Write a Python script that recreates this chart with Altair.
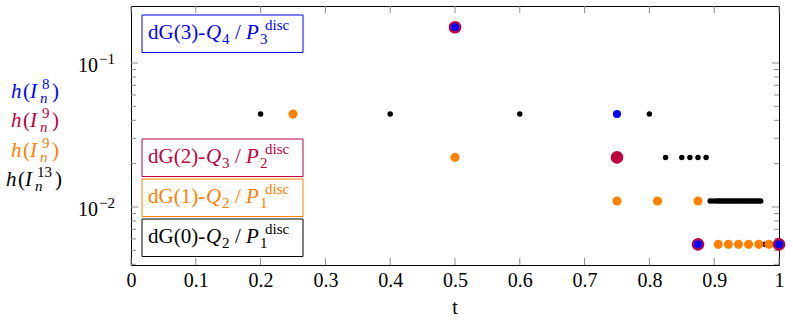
import altair as alt
import pandas as pd

FONT = "'Liberation Serif'"
BLUE = "#0000ff"
PURPLE = "#bf0040"
ORANGE = "#ff8000"
BLACK = "#000000"
TICK = "#8c8c8c"

# dG(0)-Q2/P1disc, local mesh size h(I_n^13)
dg0_t = [0.2, 0.4, 0.6, 0.8,
         0.825, 0.85, 0.8625, 0.875, 0.8875,
         0.8938, 0.8984, 0.9031, 0.9063, 0.9094, 0.9125, 0.9156, 0.9188,
         0.9219, 0.925, 0.9281, 0.9313, 0.9344, 0.9375, 0.9406, 0.9438,
         0.9469, 0.95, 0.9531, 0.9563, 0.9594, 0.9625, 0.9656, 0.9688,
         0.9719,
         0.978]
dg0_h = [0.0442, 0.0442, 0.0442, 0.0442,
         0.0221, 0.0221, 0.0221, 0.0221, 0.0221,
         0.0110, 0.0110, 0.0110, 0.0110, 0.0110, 0.0110, 0.0110, 0.0110,
         0.0110, 0.0110, 0.0110, 0.0110, 0.0110, 0.0110, 0.0110, 0.0110,
         0.0110, 0.0110, 0.0110, 0.0110, 0.0110, 0.0110, 0.0110, 0.0110,
         0.0110,
         0.0055]

# dG(1)-Q2/P1disc, h(I_n^9)
dg1_t = [0.25, 0.5, 0.75, 0.8125, 0.875,
         0.9063, 0.9219, 0.9375, 0.9531, 0.9688, 0.9844]
dg1_h = [0.0442, 0.0221, 0.0110, 0.0110, 0.0110,
         0.0055, 0.0055, 0.0055, 0.0055, 0.0055, 0.0055]

# dG(2)-Q3/P2disc, h(I_n^9)
dg2_t = [0.5, 0.75, 0.875, 1.0]
dg2_h = [0.177, 0.0221, 0.0055, 0.0055]

# dG(3)-Q4/P3disc, h(I_n^8)
dg3_t = [0.5, 0.75, 0.875, 1.0]
dg3_h = [0.177, 0.0442, 0.0055, 0.0055]

x_ticks = [0, 0.1, 0.2, 0.3, 0.4, 0.5, 0.6, 0.7, 0.8, 0.9, 1]
y_major = [0.01, 0.1]
y_major_exp = ["\u22122", "\u22121"]
y_minor = [0.004, 0.005, 0.006, 0.007, 0.008, 0.009,
           0.02, 0.03, 0.04, 0.05, 0.06, 0.07, 0.08, 0.09]

W, H = 648, 259
xsc = alt.Scale(domain=[0, 1], nice=False, zero=False)
ysc = alt.Scale(type="log", domain=[0.003954, 0.2488], nice=False)
xax = alt.Axis(values=x_ticks, format="~g", labelFont=FONT, labelFontSize=20,
               labelColor=BLACK, labelPadding=5, labelFlush=False,
               labelOverlap=False, ticks=False, domain=False, grid=False,
               title=None)

ONE = pd.DataFrame({"k": [0]})


def frag(s, x, y, size, color, italic=False, align="left"):
    return alt.Chart(ONE).mark_text(
        text=s, font=FONT, fontSize=size,
        fontStyle="italic" if italic else "normal",
        color=color, align=align, baseline="alphabetic",
    ).encode(x=alt.value(x), y=alt.value(y))


def points(ts, hs, color, size):
    df = pd.DataFrame({"t": ts, "h": hs})
    return alt.Chart(df).mark_circle(color=color, size=size, opacity=1).encode(
        x=alt.X("t:Q", scale=xsc, axis=xax),
        y=alt.Y("h:Q", scale=ysc, axis=None),
    )


layers = []

# inward ticks on all four sides
xt = pd.DataFrame({"v": x_ticks})
for y0, y1 in [(H, H - 7), (0, 7)]:
    layers.append(alt.Chart(xt).mark_rule(color=TICK, strokeWidth=1).encode(
        x=alt.X("v:Q", scale=xsc, axis=xax),
        y=alt.value(y0), y2=alt.value(y1)))
for vals, ln in [(y_major, 7), (y_minor, 5)]:
    yt = pd.DataFrame({"v": vals})
    for x0, x1 in [(0, ln), (W, W - ln)]:
        layers.append(alt.Chart(yt).mark_rule(color=TICK, strokeWidth=1).encode(
            y=alt.Y("v:Q", scale=ysc, axis=None),
            x=alt.value(x0), x2=alt.value(x1)))

# y tick labels 10^-k
ylab = pd.DataFrame({"v": y_major, "e": y_major_exp})
layers.append(alt.Chart(ylab).mark_text(
    text="10", font=FONT, fontSize=20, align="right", baseline="alphabetic",
    dy=9, color=BLACK).encode(
    y=alt.Y("v:Q", scale=ysc, axis=None), x=alt.value(-33)))
layers.append(alt.Chart(ylab).mark_text(
    font=FONT, fontSize=15, align="left", baseline="alphabetic",
    dy=1, color=BLACK).encode(
    y=alt.Y("v:Q", scale=ysc, axis=None), x=alt.value(-32), text="e:N"))

# data points
layers.append(points(dg0_t, dg0_h, BLACK, 30))
layers.append(points(dg1_t, dg1_h, ORANGE, 82))
layers.append(points(dg2_t, dg2_h, PURPLE, 160))
layers.append(points(dg3_t, dg3_h, BLUE, 66))


def legend_box(deg, q, p, color, top):
    bx0, bx1 = 11, 172
    out = [alt.Chart(ONE).mark_rect(fill="white", stroke=color, strokeWidth=1).encode(
        x=alt.value(bx0), x2=alt.value(bx1),
        y=alt.value(top), y2=alt.value(top + 37.5))]
    tx, by = 17, top + 24
    out += [
        frag(f"dG({deg})-", tx, by, 21, color),
        frag("Q", tx + 58, by, 21, color, italic=True),
        frag(q, tx + 74, by + 5, 15, color),
        frag("/", tx + 87, by, 21, color),
        frag("P", tx + 98, by, 21, color, italic=True),
        frag(p, tx + 112, by + 5, 15, color),
        frag("disc", tx + 117, by - 9, 15, color),
    ]
    return out


layers += legend_box(3, "4", "3", BLUE, 9)
layers += legend_box(2, "3", "2", PURPLE, 133)
layers += legend_box(1, "2", "1", ORANGE, 173)
layers += legend_box(0, "2", "1", BLACK, 213)


def ytitle(sup, color, x0, base):
    close = x0 + (41 if len(sup) == 1 else 49)
    return [
        frag("h", x0, base, 21, color, italic=True),
        frag("(", x0 + 12, base, 21, color),
        frag("I", x0 + 19, base, 21, color, italic=True),
        frag("n", x0 + 29, base + 5, 15, color, italic=True),
        frag(sup, x0 + 31, base - 9, 15, color),
        frag(")", close, base, 21, color),
    ]


layers += ytitle("8", BLUE, -120, 92)
layers += ytitle("9", PURPLE, -120, 121)
layers += ytitle("9", ORANGE, -120, 151)
layers += ytitle("13", BLACK, -125, 180)

# x axis title
layers.append(frag("t", W / 2, 308, 20, BLACK, align="center"))

chart = alt.layer(*layers).properties(
    width=W, height=H,
    padding={"left": 131, "top": 6, "right": 14, "bottom": 58},
    autosize=alt.AutoSizeParams(type="none"),
).configure_view(stroke=BLACK, strokeWidth=1)

chart.save("out.html", embed_options={"renderer": "svg", "actions": False})
